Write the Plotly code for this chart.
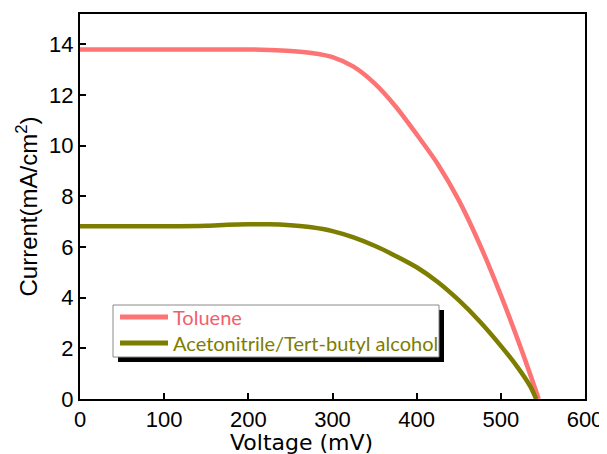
import plotly.graph_objects as go

voltage_tol = [0, 50, 100, 150, 200, 225, 250, 275, 300, 325, 350, 375, 400, 425, 450, 475, 500, 525, 545]
current_tol = [13.8, 13.8, 13.8, 13.8, 13.8, 13.78, 13.74, 13.66, 13.5, 13.12, 12.46, 11.55, 10.45, 9.28, 7.85, 6.1, 4.1, 1.9, 0]

voltage_act = [0, 50, 100, 150, 175, 200, 225, 250, 275, 300, 325, 350, 375, 400, 425, 450, 475, 500, 520, 535, 542]
current_act = [6.82, 6.82, 6.82, 6.84, 6.88, 6.9, 6.9, 6.86, 6.78, 6.63, 6.38, 6.05, 5.65, 5.2, 4.62, 3.9, 3.06, 2.1, 1.25, 0.5, 0]

names = ["Toluene", "Acetonitrile/Tert-butyl alcohol"]
colors = ["#fd7474", "#7d7d00"]
text_colors = ["#f0606a", "#7d7d00"]

# Page body has an 8px default margin; figure is sized so the plot lands where the reference has it.
W, H = 599, 446
ML, MR, MT, MB = 72, 22, 6, 55
PW, PH = W - ML - MR, H - MT - MB
OFF = 8


def px(xs):  # screen pixel -> paper x
    return (xs - OFF - ML) / PW


def py(ys):  # screen pixel -> paper y
    return (H - MB - (ys - OFF)) / PH


fig = go.Figure()
for vx, cy, nm, c in zip([voltage_tol, voltage_act], [current_tol, current_act], names, colors):
    fig.add_trace(go.Scatter(x=vx, y=cy, mode="lines", name=nm, showlegend=False,
                             line=dict(color=c, width=4.5, shape="spline", smoothing=0.8)))

axis_common = dict(showline=True, linecolor="black", linewidth=2, mirror=True,
                   ticks="inside", ticklen=6, tickwidth=2, tickcolor="black",
                   showgrid=False, zeroline=False, automargin=False,
                   tickfont=dict(family="Liberation Sans, Arial", size=22, color="black"))

fig.update_xaxes(range=[0, 600], tickvals=[0, 100, 200, 300, 400, 500, 600], **axis_common)
fig.update_yaxes(range=[0, 15.2], tickvals=[0, 2, 4, 6, 8, 10, 12, 14],
                 title=dict(text="Current(mA/cm<sup>2</sup>)", standoff=5,
                            font=dict(family="Liberation Sans, Arial", size=24, color="black")),
                 **axis_common)

fig.add_annotation(text="Voltage (mV)", xref="paper", yref="paper", x=px(301), y=py(442),
                   xanchor="center", yanchor="middle", showarrow=False,
                   font=dict(family="DejaVu Sans, Liberation Sans", size=22, color="black"))

# hand-drawn legend: shadow, box, line samples, labels
fig.add_shape(type="rect", xref="paper", yref="paper", x0=px(118), x1=px(444), y0=py(362), y1=py(310),
              fillcolor="black", line=dict(width=0), layer="above")
fig.add_shape(type="rect", xref="paper", yref="paper", x0=px(113), x1=px(439), y0=py(357), y1=py(305),
              fillcolor="white", line=dict(color="#8a8a8a", width=1), layer="above")
for row_y, c, tc, nm in zip([317, 343], colors, text_colors, names):
    fig.add_shape(type="line", xref="paper", yref="paper", x0=px(120), x1=px(168), y0=py(row_y), y1=py(row_y),
                  line=dict(color=c, width=5), layer="above")
    fig.add_annotation(text=nm, xref="paper", yref="paper", x=px(171), y=py(row_y),
                       xanchor="left", yanchor="middle", showarrow=False,
                       font=dict(family="Lato", size=20, color=tc))

fig.update_layout(
    width=W, height=H,
    margin=dict(l=ML, r=MR, t=MT, b=MB),
    plot_bgcolor="white", paper_bgcolor="white",
    showlegend=False,
)

fig.write_html("out.html")
